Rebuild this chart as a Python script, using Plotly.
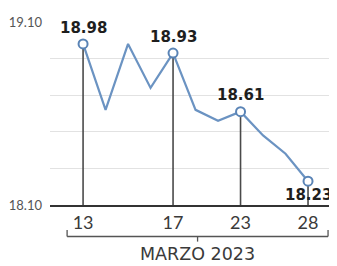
import plotly.graph_objects as go

# Data (March 2023 trading days; 20 March was a holiday)
days = ["13", "14", "15", "16", "17", "21", "22", "23", "24", "27", "28"]
values = [18.98, 18.62, 18.98, 18.74, 18.93, 18.62, 18.56, 18.61, 18.48, 18.38, 18.23]
highlight_days = ["13", "17", "23", "28"]
highlight_values = [18.98, 18.93, 18.61, 18.23]
highlight_labels = ["18.98", "18.93", "18.61", "18.23"]
label_shift = [16, 16, 17, -14]
y_min, y_max = 18.10, 19.10
grid_vals = [18.10, 18.30, 18.50, 18.70, 18.90, 19.10]
grid_text = ["18.10", "", "", "", "", "19.10"]
period_label = "MARZO 2023"

xpos = list(range(len(days)))
hx = [days.index(d) for d in highlight_days]

fig = go.Figure()

# Drop lines
for x, v in zip(hx, highlight_values):
    fig.add_trace(go.Scatter(x=[x, x], y=[y_min, v], mode="lines",
                             line=dict(color="#4a4a4a", width=1.6),
                             hoverinfo="skip", showlegend=False))

# Main line
fig.add_trace(go.Scatter(x=xpos, y=values, mode="lines",
                         line=dict(color="#6b93c2", width=2.2),
                         showlegend=False))

# Highlight markers
fig.add_trace(go.Scatter(x=hx, y=highlight_values, mode="markers",
                         marker=dict(size=9, color="white",
                                     line=dict(color="#5a84b6", width=2)),
                         showlegend=False))

for x, v, t, s in zip(hx, highlight_values, highlight_labels, label_shift):
    fig.add_annotation(x=x, y=v, text=f"<b>{t}</b>", showarrow=False,
                       yshift=s, font=dict(family="DejaVu Sans", size=15, color="#1e1e1e"))

# Bracket under the x axis
xl, xr = -0.71, 10.89
xc = (xl + xr) / 2
yb = -0.172
bracket = dict(color="#555555", width=1.3)
fig.add_shape(type="line", xref="x", yref="paper", x0=xl, x1=xr, y0=yb, y1=yb, line=bracket)
fig.add_shape(type="line", xref="x", yref="paper", x0=xl, x1=xl, y0=yb, y1=-0.137, line=bracket)
fig.add_shape(type="line", xref="x", yref="paper", x0=xr, x1=xr, y0=yb, y1=-0.137, line=bracket)
fig.add_shape(type="line", xref="x", yref="paper", x0=xc, x1=xc, y0=yb, y1=-0.200, line=bracket)
fig.add_annotation(x=xc, xref="x", y=-0.27, yref="paper", yanchor="middle", xanchor="center",
                   text=period_label, showarrow=False,
                   font=dict(family="DejaVu Sans", size=17.5, color="#3a3a3a"))

# The page body adds an 8px margin, so the figure is sized/offset to compensate.
fig.update_layout(
    width=329, height=258,
    margin=dict(l=42, r=4, t=14, b=61),
    paper_bgcolor="white", plot_bgcolor="white",
    xaxis=dict(range=[-1.47, 11.11], tickvals=hx, ticktext=highlight_days,
               showgrid=False, showline=True, linecolor="#333333", linewidth=2,
               ticks="", tickfont=dict(family="Lato", size=18, color="#3a3a3a"),
               zeroline=False, automargin=False),
    yaxis=dict(range=[y_min, y_max], tickvals=grid_vals, ticktext=grid_text,
               showgrid=True, gridcolor="#e2e2e2", gridwidth=1,
               zeroline=False, showline=False, ticks="", ticklabelstandoff=7,
               tickfont=dict(family="Lato", size=13, color="#555555"),
               automargin=False),
)

fig.write_html("out.html")
